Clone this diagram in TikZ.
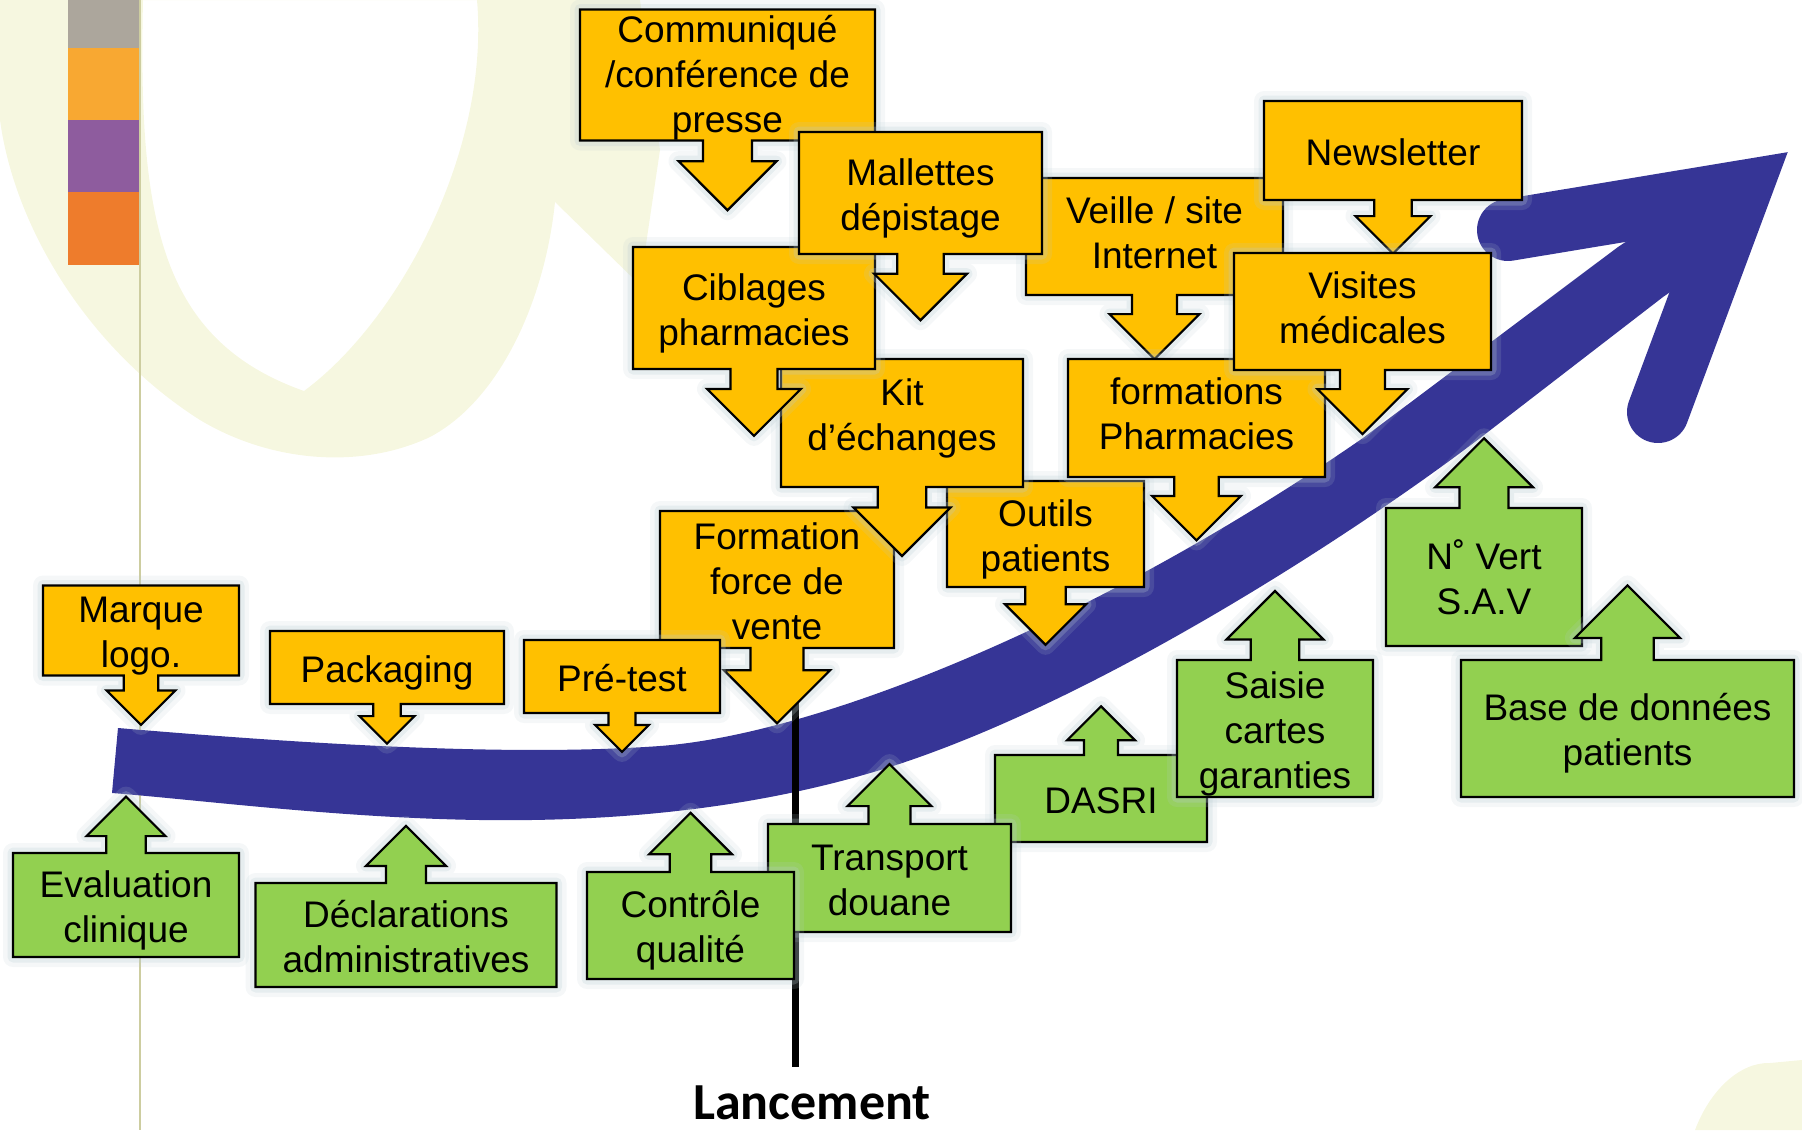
\documentclass[tikz,border=0pt]{standalone}
\usepackage{fontspec}
\setmainfont{Liberation Sans}
\newfontfamily\lancfont{Carlito}
\usepackage{tikz}
\usetikzlibrary{shapes.arrows}

\definecolor{boxgold}{RGB}{255,192,0}
\definecolor{boxgreen}{RGB}{146,208,80}
\definecolor{bandblue}{RGB}{54,53,150}
\definecolor{palebg}{RGB}{246,247,224}
\definecolor{glowgray}{RGB}{186,204,210}
\definecolor{rulecol}{RGB}{205,205,160}
\definecolor{sqgray}{RGB}{172,166,156}
\definecolor{sqorange}{RGB}{248,168,50}
\definecolor{sqpurple}{RGB}{142,92,158}
\definecolor{sqred}{RGB}{238,124,44}

\tikzset{
  halo/.style={preaction={draw=glowgray,line width=20,draw opacity=.15,line join=round},
               preaction={draw=glowgray,line width=11,draw opacity=.25,line join=round}},
  nlines/.style={execute at begin node={\rule{0pt}{\numexpr37+45*(#1-1)\relax pt}}},
  texttop/.style={execute at begin node={\rule{0pt}{#1pt}}},
  textdepth/.style={execute at end node={\rule[-#1pt]{0pt}{0pt}}},
  callbox/.style={shape=arrow box,draw=black,line width=2.2,halo,
    arrow box tip angle=90,
    arrow box north arrow=-1pt,arrow box south arrow=-1pt,
    arrow box east arrow=-1pt,arrow box west arrow=-1pt,
    inner sep=0pt,align=center,font=\fontsize{37}{45}\selectfont,
    nlines=1,textdepth=8},
  downcall/.code={%
    \pgfmathsetlengthmacro\arlen{0.7*#1}%
    \pgfmathsetlengthmacro\arshaft{0.5*#1}%
    \pgfmathsetlengthmacro\arhead{0.25*#1}%
    \edef\arkeys{\noexpand\pgfkeysalso{arrow box south arrow=\arlen,
      arrow box shaft width=\arshaft,arrow box head extend=\arhead}}%
    \arkeys},
  upcall/.code={%
    \pgfmathsetlengthmacro\arlen{0.7*#1}%
    \pgfmathsetlengthmacro\arshaft{0.5*#1}%
    \pgfmathsetlengthmacro\arhead{0.25*#1}%
    \edef\arkeys{\noexpand\pgfkeysalso{arrow box north arrow=\arlen,
      arrow box shaft width=\arshaft,arrow box head extend=\arhead}}%
    \arkeys},
  goldbox/.style={callbox,fill=boxgold},
  greenbox/.style={callbox,fill=boxgreen},
  boxdim/.style 2 args={minimum width=#1pt,minimum height=#2pt}
}

\begin{document}
\begin{tikzpicture}[x=1pt,y=-1pt]
      \def\headw{62}

      \useasboundingbox (0,0) rectangle (1802,1130);

      \fill[palebg,even odd rule]
      (0,0) -- (0,120) .. controls (15,230) and (90,350) .. (200,420)
      .. controls (270,462) and (360,470) .. (430,437)
      .. controls (500,400) and (545,300) .. (555,202)
      -- (640,285) -- (660,150) -- (640,0) -- cycle
      (143,0) .. controls (138,220) and (160,340) .. (304,391)
      .. controls (400,320) and (490,150) .. (477,0) -- cycle;

      \fill[palebg]
      (1695,1130) .. controls (1710,1090) and (1740,1062) .. (1770,1063)
      -- (1802,1060) -- (1802,1130) -- cycle;

      \fill[sqgray] (68,0) rectangle (140,48);
      \fill[sqorange] (68,48) rectangle (140,120);
      \fill[sqpurple] (68,120) rectangle (140,192);
      \fill[sqred] (68,192) rectangle (140,265);
      \draw[rulecol,line width=2] (140,0) -- (140,1130);

      \fill[bandblue]
      (118,728) .. controls (330,746) and (520,756) .. (660,746)
      .. controls (820,734) and (1100,620) .. (1363,438)
      -- (1618,247) -- (1720,180) -- (1745,240) -- (1663,297) -- (1484,435)
      .. controls (1360,530) and (1100,700) .. (890,767)
      .. controls (760,808) and (620,822) .. (480,820)
      .. controls (340,818) and (200,800) .. (112,793) -- cycle;

      \draw[bandblue,line width=\headw,line cap=round,line join=miter]
      (1508,230) -- (1740,191.5) -- (1658,412);

      \coordinate (lantop) at (795,700);
      \coordinate (lanbot) at (795,1067);
      \draw[line width=7] (lantop) -- (lanbot);

      \path node (outl) at (1045.5,534) [goldbox,downcall=81,boxdim={197}{106},nlines=2] {Outils\\patients};
      \path node (ffv) at (777,579.5) [goldbox,downcall=106,boxdim={234}{137},nlines=3] {Formation\\force de\\vente};
      \path node (pret) at (622,676.5) [goldbox,downcall=54,boxdim={196}{73}] {Pré-test};
      \path node (kit) at (902,423) [goldbox,downcall=97,boxdim={242}{128},nlines=2,textdepth=27] {Kit\\d’échanges};
      \path node (cibl) at (754,308) [goldbox,downcall=94,boxdim={242}{122},nlines=2] {Ciblages\\pharmacies};
      \path node (comm) at (727.5,75) [goldbox,downcall=98,boxdim={295}{128},texttop=123,textdepth=5]
            {Communiqué\\/conférence de\\\raisebox{0pt}[\height][0pt]{presse}};
      \path node (veil) at (1154.5,236.5) [goldbox,downcall=90,boxdim={257}{117}] {Veille / site\\Internet};
      \path node (mall) at (920.5,193) [goldbox,downcall=93,boxdim={243}{122},nlines=2] {Mallettes\\dépistage};
      \path node (fpha) at (1196.5,418) [goldbox,downcall=89,boxdim={257}{118}] {formations\\Pharmacies};
      \path node (news) at (1393,150.5) [goldbox,downcall=75,boxdim={258}{99}] {Newsletter};
      \path node (visi) at (1362.5,311.5) [goldbox,downcall=90,boxdim={257}{117}] {Visites\\médicales};
      \path node (marq) at (141,630.5) [goldbox,downcall=69,boxdim={196}{89},nlines=2,textdepth=7] {Marque\\logo.};
      \path node (pack) at (387,667.5) [goldbox,downcall=55,boxdim={234}{73}] {Packaging};

      \path node (dasr) at (1101,798.5) [greenbox,upcall=68,boxdim={212}{87}] {DASRI};
      \path node (tran) at (889.5,878) [greenbox,upcall=84,boxdim={243}{108},nlines=2] {Transport\\douane};
      \path node (ctrl) at (690.5,925.5) [greenbox,upcall=83,boxdim={207}{107},nlines=2] {Contrôle\\qualité};
      \path node (sais) at (1275,728.5) [greenbox,upcall=97,boxdim={196}{137},nlines=3] {Saisie\\cartes\\garanties};
      \path node (nver) at (1484,577) [greenbox,upcall=98,boxdim={196}{138},nlines=2] {N˚ Vert\\S.A.V};
      \path node (base) at (1627.5,728.5) [greenbox,upcall=105,boxdim={333}{137},nlines=2] {Base de données\\patients};
      \path node (eval) at (126,905) [greenbox,upcall=79,boxdim={226}{104},nlines=2] {Evaluation\\clinique};
      \path node (decl) at (406,935) [greenbox,upcall=80,boxdim={301}{104},nlines=2] {Déclarations\\administratives};

      \path node (lanc) at (812,1119)
            [anchor=base,font=\lancfont\bfseries\fontsize{52}{60}\selectfont]
            {Lancement};
    \end{tikzpicture}
\end{document}
